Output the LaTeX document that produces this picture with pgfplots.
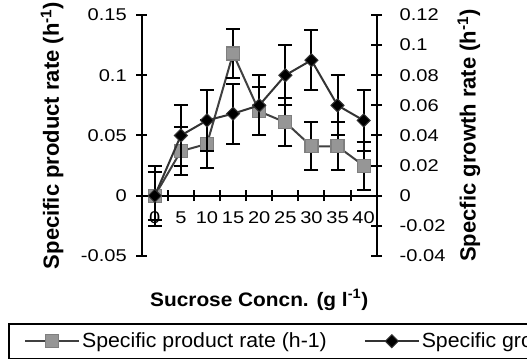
\documentclass[border=0pt]{standalone}
\usepackage{fontspec}
\setmainfont{Liberation Sans}
\usepackage{graphicx}
\usepackage{pgfplots}
\usepackage{pgfplotstable}
\pgfplotsset{compat=1.18}
\definecolor{prodfill}{HTML}{969696}
\definecolor{prodedge}{HTML}{7F7F7F}
\definecolor{prodline}{HTML}{404040}
\definecolor{growline}{HTML}{333333}
\newcommand\tk[1]{\scalebox{1.18}[1]{#1}}
\newlength\tmpw
\pgfplotstableread{
x y e
0 0     0.02
1 0.037 0.02
2 0.043 0.02
3 0.118 0.02
4 0.070 0.02
5 0.061 0.02
6 0.041 0.02
7 0.041 0.02
8 0.025 0.02
}\prodtable
\pgfplotstableread{
x y e
0 0      0.02
1 0.040  0.02
2 0.050  0.02
3 0.0545 0.02
4 0.060  0.02
5 0.080  0.02
6 0.090  0.02
7 0.060  0.02
8 0.050  0.02
}\growtable
\pgfplotsset{
  prodstyle/.style={color=prodline, line width=2pt, mark=square*, mark size=6.5pt,
    mark options={fill=prodfill, draw=prodedge, line width=1.2pt}},
  growstyle/.style={color=growline, line width=2pt, mark=square*, mark size=4.6pt,
    mark options={rotate=45, fill=black, draw=growline, line width=1pt}},
  errstyle/.style={error bars/.cd, y dir=both, y explicit,
    error bar style={line width=2pt, black},
    error mark options={rotate=90, mark size=7pt, line width=2pt, black}},
  common/.style={
    at={(141.7pt,105pt)}, anchor=south west,
    scale only axis, width=235pt, height=241pt,
    xmin=-0.5, xmax=8.5,
    axis line style={line width=2pt, black, -},
    tick align=center, major tick length=11pt,
    every tick/.style={black, line width=2pt},
    ticklabel style={font=\fontsize{17}{19}\selectfont},
    clip=false,
  },
}
\begin{document}
\settowidth\tmpw{\fontsize{20.5}{22}\selectfont Specific product rate (h-1)}%
\pgfmathsetmacro\legsc{244.7/\tmpw}%
\begin{tikzpicture}
\useasboundingbox (0,0) rectangle (527pt,361pt);
\begin{axis}[common,
  ymin=-0.05, ymax=0.15,
  axis x line*=middle, axis y line*=left,
  xtick={-0.5,0.5,...,8.5}, xticklabels={},
  extra x ticks={0,1,2,3,4,5,6,7,8},
  extra x tick labels={\tk{0},\tk{5},\tk{10},\tk{15},\tk{20},\tk{25},\tk{30},\tk{35},\tk{40}},
  extra x tick style={major tick length=0pt},
  xticklabel style={yshift=-12.5pt},
  ytick={-0.05,0,0.05,0.1,0.15},
  yticklabels={\tk{-0.05},\tk{0},\tk{0.05},\tk{0.1},\tk{0.15}},
  yticklabel style={xshift=-6pt},
  xlabel={\resizebox{218pt}{\height}{\bfseries\fontsize{19.5}{22}\selectfont Sucrose Concn. (g l\textsuperscript{-1})}},
  xlabel style={at={(axis description cs:0.5,-0.1826)}, anchor=center},
  ylabel={\bfseries\fontsize{22}{24}\selectfont Specific product rate (h\textsuperscript{-1})},
  ylabel style={at={(axis description cs:-0.3817,0.5)}, anchor=center},
  legend columns=2,
  legend image code/.code={\draw[mark repeat=2,mark phase=2] plot coordinates {(0pt,0pt)(27pt,0pt)(54pt,0pt)};},
  legend style={at={(axis description cs:-0.5677,-0.279)}, anchor=north west,
    draw=black, line width=1.6pt, font=\fontsize{20.5}{22}\selectfont,
    inner xsep=15pt, inner ysep=7pt,
    /tikz/every even column/.append style={column sep=35pt}},
]
\addplot[prodstyle, errstyle] table[x=x, y=y, y error=e] {\prodtable};
\addlegendentry{\scalebox{\legsc}[1]{Specific product rate (h-1)}}
\addlegendimage{growstyle}
\addlegendentry{\scalebox{\legsc}[1]{Specific growth rate (h-1)}}
\end{axis}
\begin{axis}[common,
  ymin=-0.04, ymax=0.12,
  axis x line=none, axis y line*=right,
  ytick={-0.04,-0.02,0,0.02,0.04,0.06,0.08,0.1,0.12},
  yticklabels={\tk{-0.04},\tk{-0.02},\tk{0},\tk{0.02},\tk{0.04},\tk{0.06},\tk{0.08},\tk{0.1},\tk{0.12}},
  yticklabel style={xshift=14pt},
  ylabel={\bfseries\fontsize{22}{24}\selectfont Specfic growth rate (h\textsuperscript{-1})},
  ylabel style={at={(axis description cs:1.3928,0.5)}, anchor=center},
]
\addplot[growstyle, errstyle] table[x=x, y=y, y error=e] {\growtable};
\end{axis}
\end{tikzpicture}
\end{document}
